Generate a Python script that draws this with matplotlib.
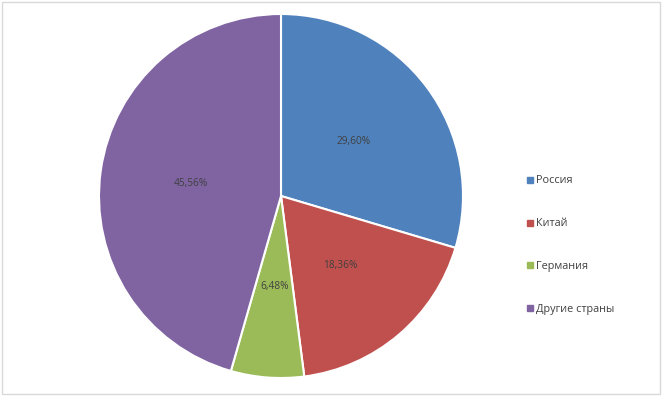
import matplotlib.pyplot as plt
from matplotlib.patches import Rectangle
from matplotlib.lines import Line2D

plt.rcParams['font.family'] = ['Open Sans', 'DejaVu Sans']

countries = ['Россия', 'Китай', 'Германия', 'Другие страны']
shares = [29.60, 18.36, 6.48, 45.56]
colors = ['#4F81BD', '#C0504D', '#9BBB59', '#8064A2']

W, H = 662, 397
fig = plt.figure(figsize=(W / 100, H / 100), dpi=100)

# pie centred at (281, 196) px, radius ~182 px
cx, cy, r = 281, 196, 182
ax = fig.add_axes([(cx - r) / W, (H - cy - r) / H, 2 * r / W, 2 * r / H])

wedges, texts, autotexts = ax.pie(
    shares, colors=colors, startangle=90, counterclock=False,
    autopct=lambda p: f'{p:.2f}'.replace('.', ',') + '%', pctdistance=0.5,
    wedgeprops=dict(edgecolor='white', linewidth=1.5),
    textprops=dict(fontsize=7.3, color='#404040'))
ax.set_aspect('equal')
ax.set_xlim(-1, 1)
ax.set_ylim(-1, 1)

handles = [Line2D([], [], marker='s', linestyle='', color=c, markersize=4) for c in colors]
fig.legend(handles, countries, loc='upper left', bbox_to_anchor=(522 / W, 1 - 171 / H),
           frameon=False, fontsize=7.8, labelcolor='#404040', handlelength=0.6,
           handletextpad=0.3, labelspacing=2.95, borderaxespad=0)

# outer chart frame
fig.patches.append(Rectangle((1.5 / W, 3.5 / H), (W - 4) / W, (H - 5) / H,
                             transform=fig.transFigure, fill=False,
                             edgecolor='#D9D9D9', linewidth=1))

fig.savefig('out.png', dpi=100)
